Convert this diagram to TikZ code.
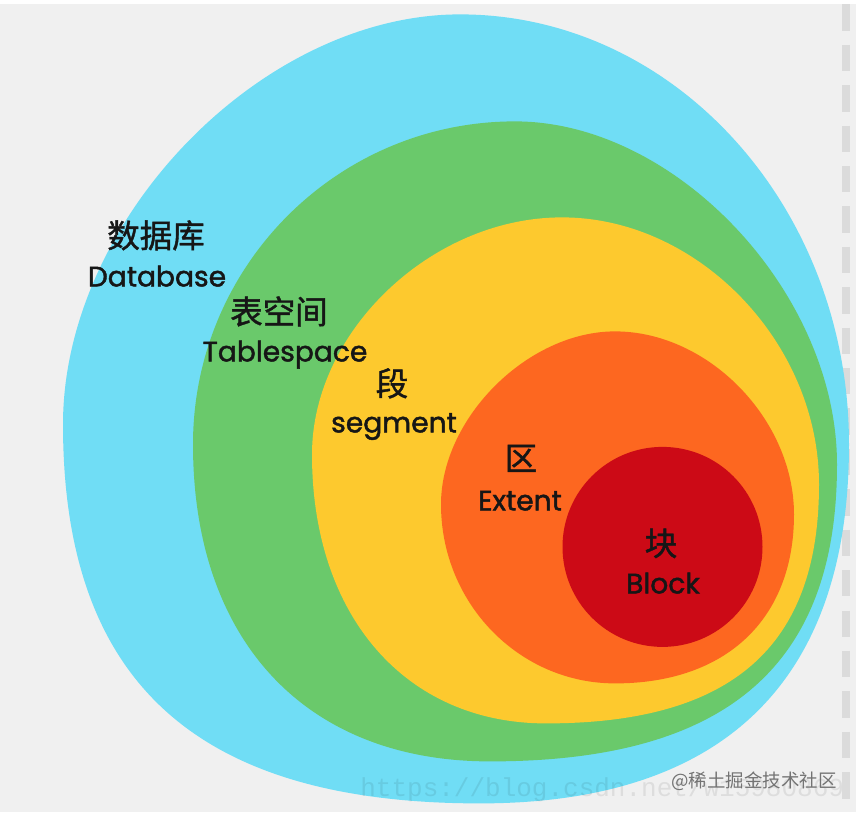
\documentclass[tikz,border=0pt]{standalone}
\usepackage{fontspec}
\setmainfont{Poppins}[FakeBold=1.6]
\newfontfamily\cjk{Noto Sans CJK SC}[FakeBold=1.3]
\newfontfamily\cjkwm{Noto Sans CJK SC}
\newfontfamily\wmfont{Liberation Mono}
\usepackage{tikz}
\definecolor{bgpage}{RGB}{240,240,240}
\definecolor{dbblue}{RGB}{112,221,245}
\definecolor{tsgreen}{RGB}{106,201,107}
\definecolor{segyellow}{RGB}{253,201,46}
\definecolor{extorange}{RGB}{253,103,32}
\definecolor{blkred}{RGB}{204,10,22}
\definecolor{ink}{RGB}{22,22,22}

\begin{document}
\begin{tikzpicture}[
  x=0.02cm, y=-0.02cm,
  zh/.style={font=\cjk\fontsize{18.5}{20}\selectfont, text=ink, inner sep=0},
  en/.style={font=\fontsize{16}{18}\selectfont, text=ink, inner sep=0, anchor=base},
  wmark/.style={font=\cjkwm\fontsize{10.5}{12}\selectfont, text=black!55, inner sep=0},
  wmurl/.style={font=\wmfont\fontsize{14.8}{16}\selectfont, text=black, text opacity=0.08,
                inner sep=0, anchor=base west},
  dashline/.style={draw=black!14, line width=5pt, dash pattern=on 15pt off 8pt},
]
% page
\fill[bgpage] (0,0) rectangle (856,808);
\draw[dashline] (846,0) -- (846,808);
% ---- nested layers, outside in (top -> right -> bottom -> left)
\fill[dbblue] (460,10) .. controls (675,10) and (849,203) .. (849,440)
  .. controls (849,677) and (723.5,799) .. (480,799)
  .. controls (196.4,799) and (63,677.7) .. (63,420)
  .. controls (63,215) and (261.5,10) .. (460,10) -- cycle;
\fill[tsgreen] (515,117) .. controls (676,117) and (837,288.5) .. (837,460)
  .. controls (837,662) and (726,757) .. (490,757)
  .. controls (305.9,757) and (193,636.5) .. (193,440)
  .. controls (193,261.7) and (337.3,117) .. (515,117) -- cycle;
\fill[segyellow] (562,213) .. controls (698.2,213) and (819,338.5) .. (819,480)
  .. controls (819,642.5) and (731.6,719) .. (546,719)
  .. controls (405.6,719) and (312,611.4) .. (312,450)
  .. controls (312,326.8) and (432,213) .. (562,213) -- cycle;
\fill[extorange] (615,327) .. controls (708.1,327) and (794,414.8) .. (794,510)
  .. controls (794,614.8) and (726,679) .. (615,679)
  .. controls (519,679) and (441,598.8) .. (441,500)
  .. controls (441,413.5) and (528,327) .. (615,327) -- cycle;
\fill[blkred] (662.5,542.5) circle[radius=100];
% ---- labels
\node[zh] (dbzh) at (156,231) {数据库};
\node[en] (dben) at (157,282) {Database};
\node[zh] (tszh) at (279,307) {表空间};
\node[en] (tsen) at (285,357) {Tablespace};
\node[zh] (segzh) at (392,379) {段};
\node[en] (segen) at (394,428) {segment};
\node[zh] (extzh) at (521,454) {区};
\node[en] (exten) at (520,506) {Extent};
\node[zh] (blkzh) at (661,539) {块};
\node[en] (blken) at (663,589) {Block};
% watermarks
\node[wmurl] (wmcsdn) at (360,792) {https://blog.csdn.net/w15980869};
\node[wmark] (wmjj) at (754,777) {@稀土掘金技术社区};
\end{tikzpicture}
\end{document}
